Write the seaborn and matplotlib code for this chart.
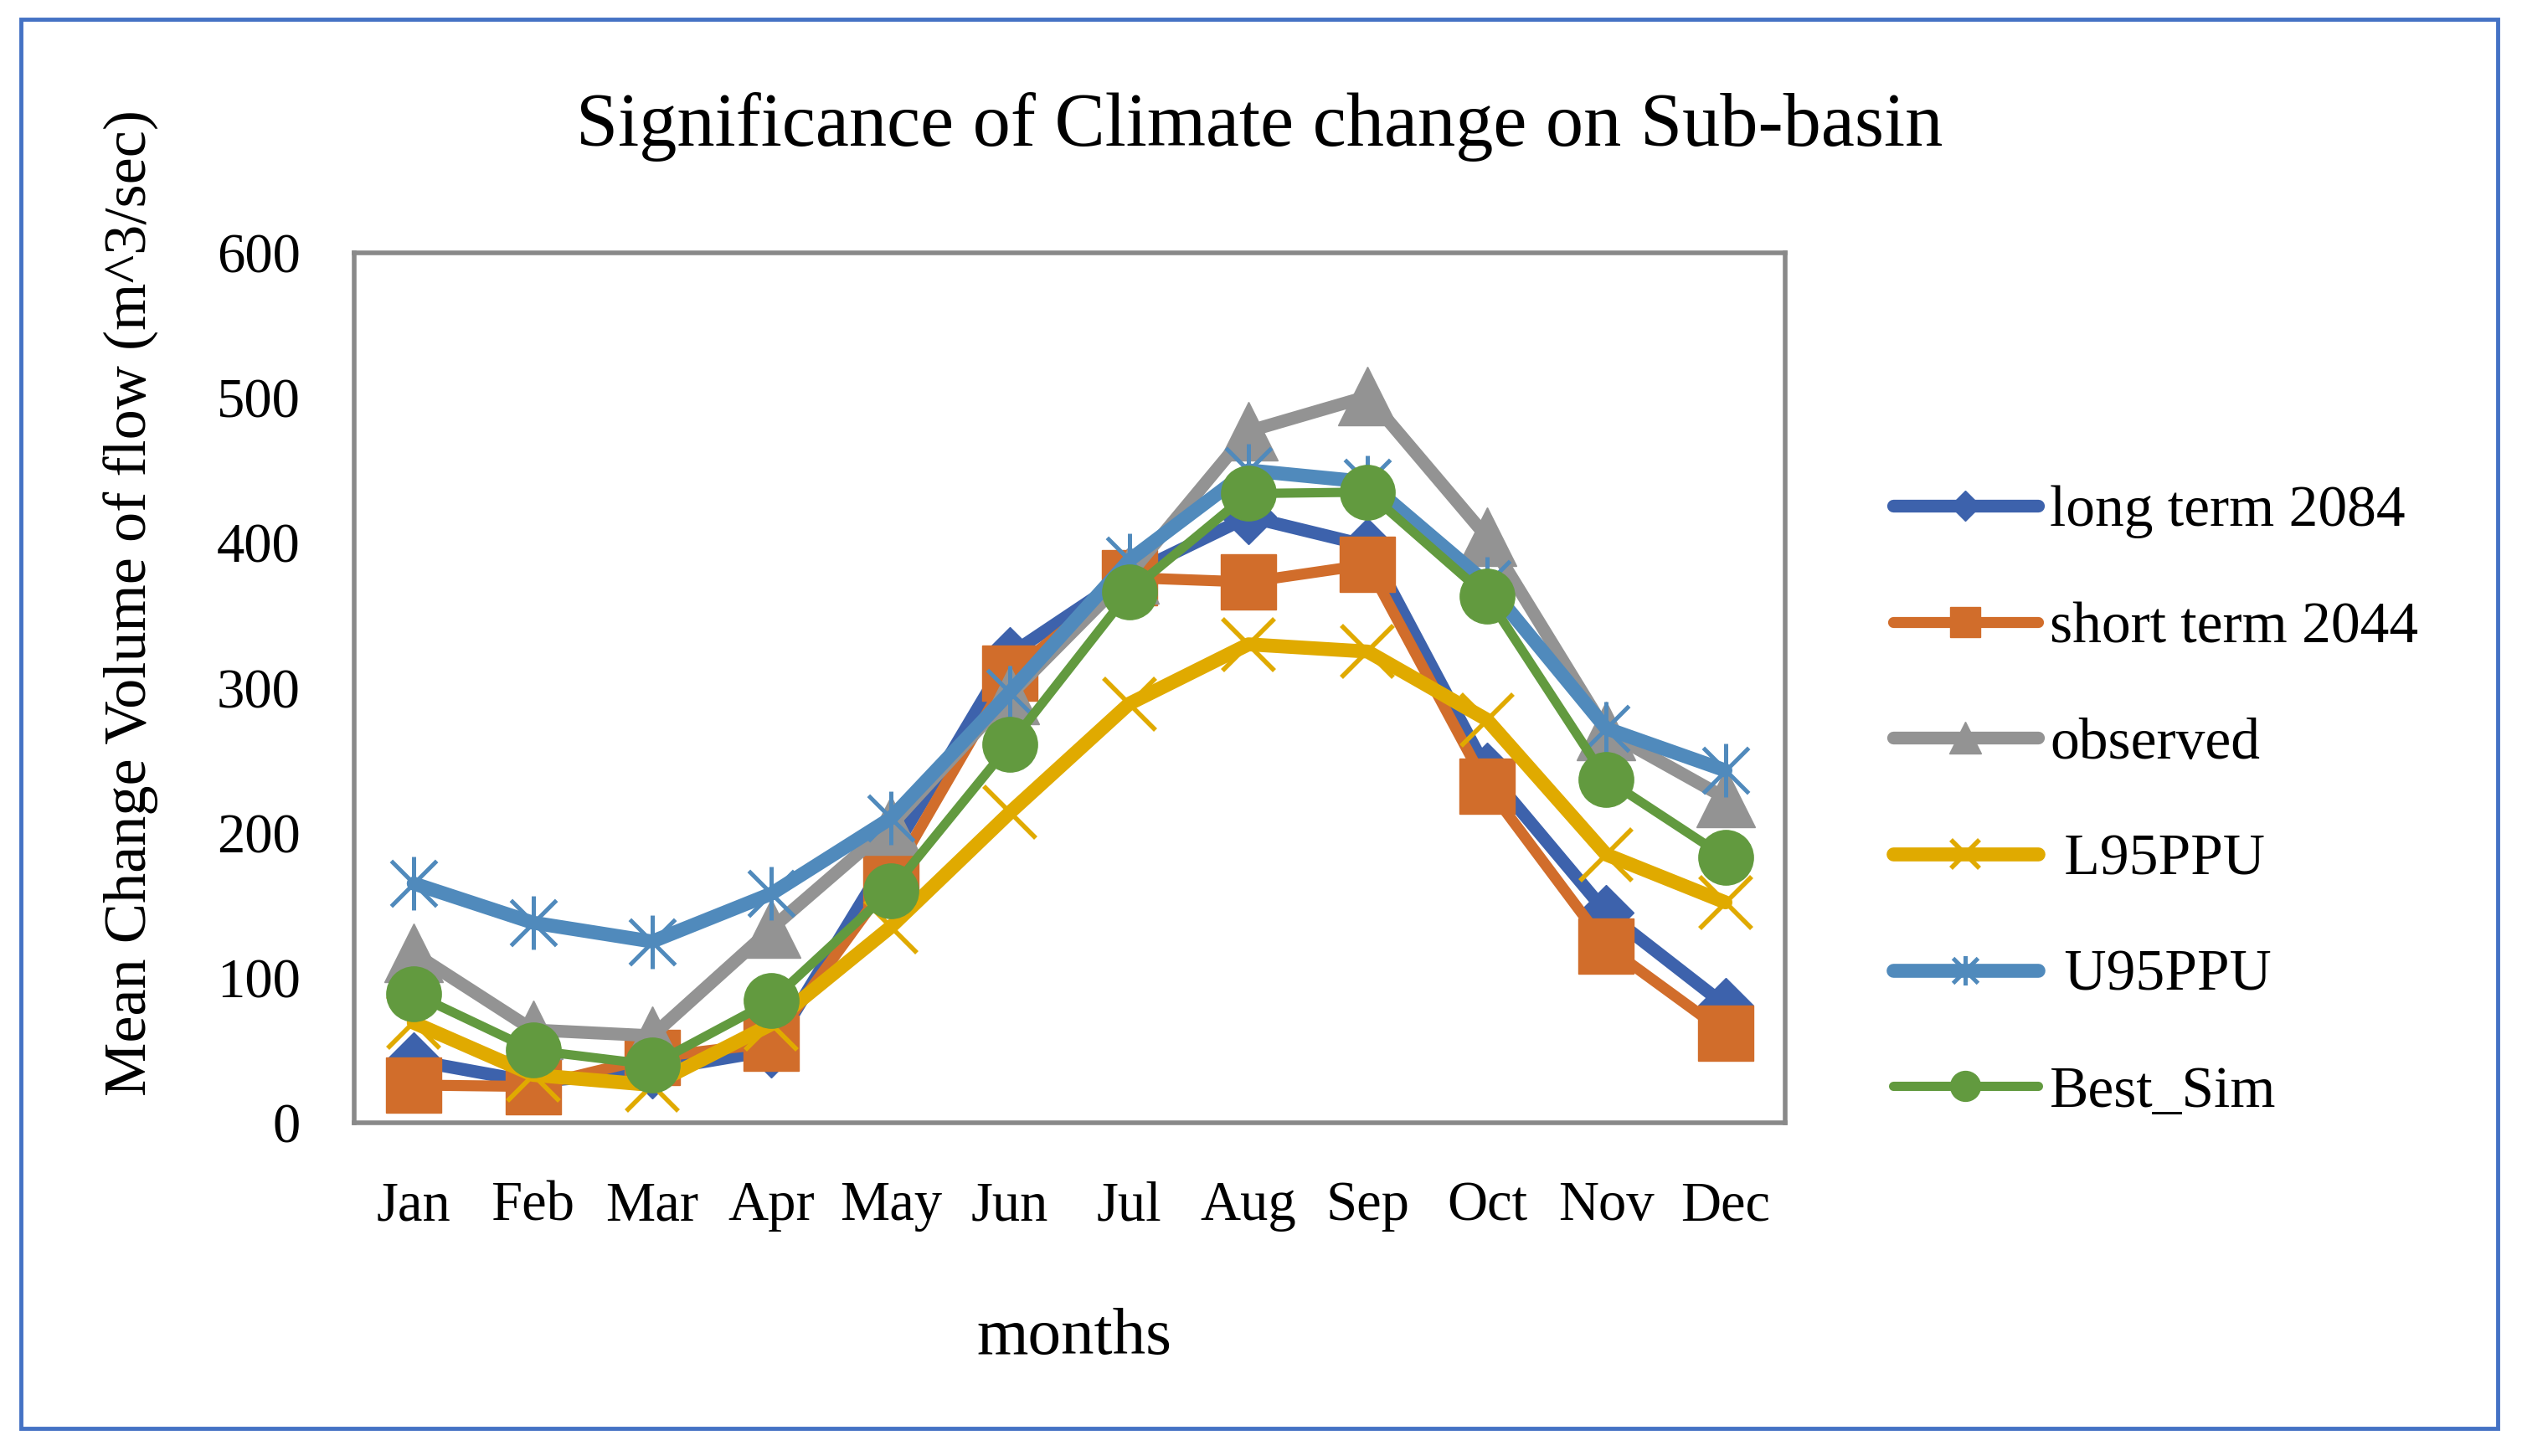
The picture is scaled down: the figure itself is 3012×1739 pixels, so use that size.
import numpy as np
import seaborn as sns
import matplotlib.pyplot as plt
from matplotlib.path import Path
from matplotlib.patches import Rectangle

# Values
months = ['Jan', 'Feb', 'Mar', 'Apr', 'May', 'Jun', 'Jul', 'Aug', 'Sep', 'Oct', 'Nov', 'Dec']
long_term_2084 = [43, 28, 36, 50, 185, 323, 378, 418, 398, 243, 145, 81]
short_term_2044 = [26, 25, 45, 55, 168, 310, 376, 373, 385, 232, 122, 62]
observed = [117, 64, 60, 134, 205, 295, 378, 477, 501, 404, 270, 224]
l95ppu = [69, 33, 26, 68, 135, 214, 289, 330, 325, 278, 185, 152]
u95ppu = [165, 138, 125, 158, 210, 297, 388, 450, 442, 372, 272, 243]
best_sim = [89, 50, 40, 84, 160, 261, 366, 434, 435, 363, 237, 183]

sns.set_style('white')
plt.rcParams['font.family'] = ['Liberation Serif', 'DejaVu Serif']
plt.rcParams['text.color'] = 'black'
plt.rcParams['xtick.color'] = 'black'
plt.rcParams['ytick.color'] = 'black'

# excel style asterisk: vertical bar plus an X
asterisk = Path([(0, -1), (0, 1), (-0.85, -0.85), (0.85, 0.85), (-0.85, 0.85), (0.85, -0.85)],
                [Path.MOVETO, Path.LINETO] * 3)

series = [
    ('long term 2084', long_term_2084, '#3D62AC', 'D', 34, 11, 1),
    ('short term 2044', short_term_2044, '#D16D2B', 's', 47, 9.5, 1),
    ('observed', observed, '#939393', '^', 50, 11, 1),
    (' L95PPU', l95ppu, '#E0AA00', 'x', 44, 12, 4),
    (' U95PPU', u95ppu, '#508ABC', asterisk, 46, 12, 3.6),
    ('Best_Sim', best_sim, '#629A3F', 'o', 47, 8, 1),
]

fig = plt.figure(figsize=(30.12, 17.39), dpi=100)
ax = fig.add_axes([0.1404, 0.2289, 0.7078 - 0.1404, 0.8263 - 0.2289])

x = np.arange(len(months))
for name, vals, col, mk, ms, lw, mew in series:
    sns.lineplot(x=x, y=vals, ax=ax, color=col, marker=mk, markersize=ms,
                 markeredgewidth=mew, markeredgecolor=col, markerfacecolor=col,
                 linewidth=lw, label=name, solid_joinstyle='round', solid_capstyle='round')

ax.set_xlim(-0.5, 11.5)
ax.set_ylim(0, 600)
ax.set_yticks(range(0, 601, 100))
ax.set_xticks(x)
ax.set_xticklabels(months)
ax.set_xticks(np.arange(-0.5, 12, 1), minor=True)
ax.tick_params(axis='x', which='major', length=0, pad=50, labelsize=48)
ax.tick_params(axis='x', which='minor', length=15, width=4, color='#898989', direction='out')
ax.tick_params(axis='y', length=16, width=4, color='#898989', direction='out', pad=30, labelsize=48)
ax.set_xlabel('')
ax.set_ylabel('')
for sp in ax.spines.values():
    sp.set_color('#898989')
    sp.set_linewidth(4)

# text placed like the excel chart
fig.text(0.4993, 0.913, 'Significance of Climate change on Sub-basin', ha='center', va='center', fontsize=65)
fig.text(0.426, 0.081, 'months', ha='center', va='center', fontsize=57)
fig.text(0.052, 0.586, 'Mean Change Volume of flow (m^3/sec)', ha='center', va='center',
         rotation=90, fontsize=52)

h, l = ax.get_legend_handles_labels()
ax.legend(h, l, loc='center left', bbox_to_anchor=(0.7505, 0.449), bbox_transform=fig.transFigure,
          frameon=False, fontsize=50, handlelength=2.5, handletextpad=0.2, labelspacing=1.08,
          borderpad=0, borderaxespad=0, markerscale=0.55)

# blue outer border
fig.patches.append(Rectangle((25 / 3012, 1 - 1706 / 1739), (2983 - 25) / 3012, (1706 - 23) / 1739,
                             transform=fig.transFigure, fill=False, edgecolor='#4472C4', linewidth=3.5))

fig.savefig('out.png', dpi=100)
